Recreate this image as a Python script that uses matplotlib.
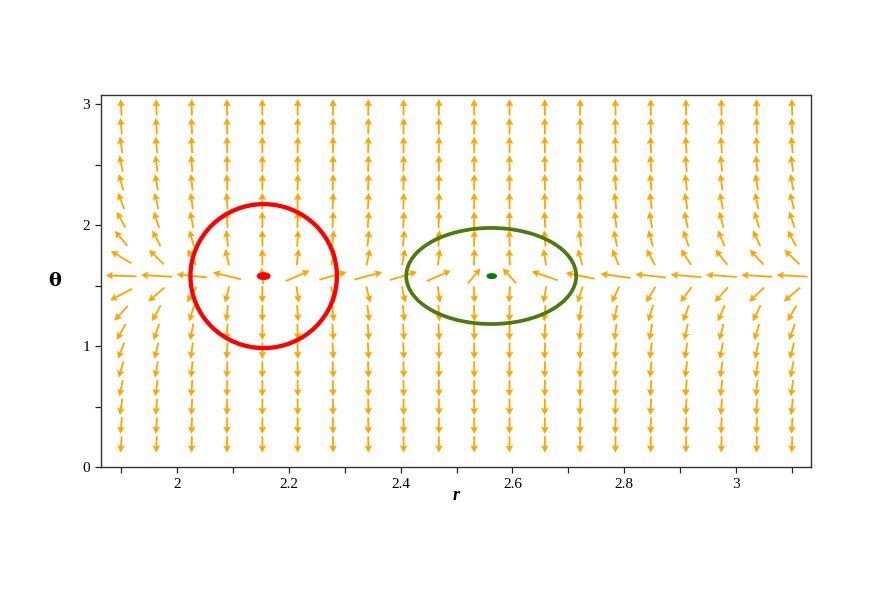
import matplotlib.pyplot as plt
import numpy as np
from matplotlib.patches import Ellipse
from matplotlib.ticker import MultipleLocator, FuncFormatter

# grid of the direction field (r columns, theta rows)
r_grid = np.linspace(1.9, 3.1, 20)
theta_grid = np.linspace(0.187, 2.973, 19)

# equilibrium points
eq_r = [2.155, 2.563]
eq_theta = [1.578, 1.578]
eq_w = [0.025, 0.019]
eq_h = [0.066, 0.05]
eq_color = ['#ff0000', '#008000']

# closed curves round the equilibria
orbit_r0 = [2.155, 2.562]
orbit_t0 = [1.578, 1.579]
orbit_dr = [0.131, 0.152]
orbit_dt = [0.595, 0.397]
orbit_color = ['#ff0000', '#4c7a10']
orbit_lw = [3.1, 2.7]

# field parameters
power = 3.2
ratio = 0.362


def field(r, th):
    dr = -(r - eq_r[0]) * (r - eq_r[1]) / r**power * np.sin(th)
    dth = -ratio * np.cos(th)
    return dr, dth


fig = plt.figure(figsize=(8.72, 5.99), dpi=100)
ax = fig.add_axes([101/872, 132/599, 710/872, 372/599])

R, T = np.meshgrid(r_grid, theta_grid)
DR, DT = field(R, T)
sr = r_grid[1] - r_grid[0]
st = theta_grid[1] - theta_grid[0]
gx = DR / sr
gy = DT / st
n = np.hypot(gx, gy)
L = 0.88
U = L * sr * gx / n
V = L * st * gy / n
ax.quiver(R, T, U, V, angles='xy', scale_units='xy', scale=1, pivot='mid',
          color='#ffa500', width=0.0026, headwidth=4.2, headlength=4.0,
          headaxislength=3.4, zorder=2)

for i in range(2):
    ax.add_patch(Ellipse((orbit_r0[i], orbit_t0[i]), 2*orbit_dr[i], 2*orbit_dt[i],
                         fill=False, ec=orbit_color[i], lw=orbit_lw[i], zorder=3))
    ax.add_patch(Ellipse((eq_r[i], eq_theta[i]), eq_w[i], eq_h[i],
                         fc=eq_color[i], ec='none', zorder=4))

ax.set_xlim(1.864, 3.134)
ax.set_ylim(0, 3.075)

ax.xaxis.set_major_locator(MultipleLocator(0.2))
ax.xaxis.set_minor_locator(MultipleLocator(0.1))
ax.yaxis.set_major_locator(MultipleLocator(1))
ax.yaxis.set_minor_locator(MultipleLocator(0.5))
fmt = FuncFormatter(lambda v, p: '%g' % round(v, 2))
ax.xaxis.set_major_formatter(fmt)
ax.yaxis.set_major_formatter(fmt)
ax.tick_params(which='both', direction='out', length=4, width=0.9, color='#222222',
               labelsize=11, pad=4)
for lab in ax.get_xticklabels() + ax.get_yticklabels():
    lab.set_fontfamily('Liberation Serif')
for s in ax.spines.values():
    s.set_color('#333333')
    s.set_linewidth(1.0)

fig.text(55/872, 1 - 281/599, '\u03b8', fontsize=14, fontweight='bold',
         family='DejaVu Serif', ha='center', va='center')
fig.text(456/872, 1 - 496/599, 'r', fontsize=13, fontweight='bold', style='italic',
         family='Liberation Serif', ha='center', va='center')

fig.savefig('out.png', dpi=100)
